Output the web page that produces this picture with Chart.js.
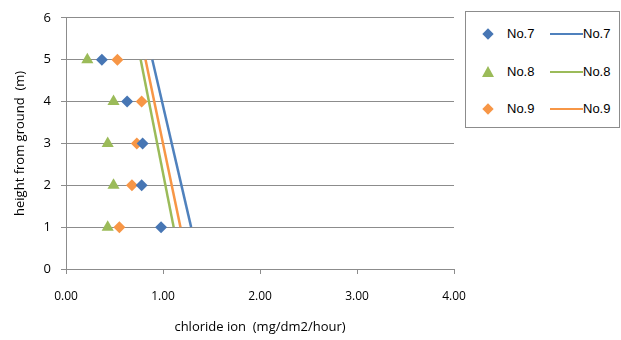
<!DOCTYPE html>
<html>
<head>
<meta charset="utf-8">
<script src="https://cdn.jsdelivr.net/npm/chart.js@4"></script>
<style>
  body { margin: 0; background: #fff; }
  #wrap { position: relative; width: 621px; height: 340px; }
  #legend {
    position: absolute; left: 465px; top: 11px; width: 153px; height: 115px;
    border: 1px solid #8c8c8c; background: #fff;
    font-family: "Liberation Sans", Arial, sans-serif; font-size: 13px; color: #000;
  }
  .row { position: absolute; left: 0; width: 100%; height: 16px; }
  .row span { position: absolute; top: 0; line-height: 16px; }
  .mk { position: absolute; }
  .ln { position: absolute; height: 2px; top: 7px; left: 84px; width: 33px; }
</style>
</head>
<body>
<div id="wrap">
  <canvas id="chart" width="621" height="340"></canvas>
  <div id="legend"></div>
</div>
<script>
// --- data ---
const heights = [1, 2, 3, 4, 5];
const no7 = [0.98, 0.78, 0.79, 0.63, 0.37];
const no8 = [0.43, 0.49, 0.43, 0.49, 0.22];
const no9 = [0.55, 0.68, 0.73, 0.78, 0.53];

// trend lines (end points)
const lineHeights = [1, 5];
const no7Line = [1.29, 0.89];
const no8Line = [1.11, 0.77];
const no9Line = [1.18, 0.82];

const xTicks = [0, 1, 2, 3, 4];
const yTicks = [0, 1, 2, 3, 4, 5, 6];
const seriesNames = ['No.7', 'No.8', 'No.9'];

const blue = '#4F81BD';
const blueMk = '#4776B4';
const green = '#9BBB59';
const orange = '#F79646';
const gridGray = '#8c8c8c';

const pts = (xs, ys) => xs.map((x, i) => ({ x: x, y: ys[i] }));

const markerSet = (label, xs, color, style) => ({
    label: label,
    data: pts(xs, heights),
    showLine: false,
    pointStyle: style,
    pointRadius: style === 'triangle' ? 7 : 6,
    backgroundColor: color,
    borderColor: color,
    borderWidth: 0
});

const lineSet = (label, xs, color) => ({
    label: label,
    data: pts(xs, lineHeights),
    showLine: true,
    pointRadius: 0,
    borderColor: color,
    borderWidth: 2.5,
    backgroundColor: color
});

new Chart(document.getElementById('chart'), {
    type: 'scatter',
    data: {
        datasets: [
            lineSet(seriesNames[0], no7Line, blue),
            lineSet(seriesNames[1], no8Line, green),
            lineSet(seriesNames[2], no9Line, orange),
            markerSet(seriesNames[0], no7, blueMk, 'rectRot'),
            markerSet(seriesNames[1], no8, green, 'triangle'),
            markerSet(seriesNames[2], no9, orange, 'rectRot')
        ]
    },
    options: {
        responsive: false,
        animation: false,
        layout: { padding: { top: 15, right: 167, left: 0, bottom: 0 } },
        plugins: { legend: { display: false }, tooltip: { enabled: false } },
        scales: {
            x: {
                type: 'linear', min: 0, max: 4,
                afterBuildTicks: s => { s.ticks = xTicks.map(v => ({ value: v })); },
                afterFit: s => { s.height = 71; },
                grid: { drawOnChartArea: false, color: gridGray, tickLength: 5 },
                border: { color: gridGray },
                ticks: {
                    padding: 15, color: '#000',
                    font: { family: 'Open Sans', size: 12 },
                    callback: v => v.toFixed(2)
                },
                title: {
                    display: true, text: 'chloride ion  (mg/dm2/hour)', color: '#000',
                    font: { family: 'Open Sans', size: 13 }, padding: { top: 8, bottom: 5 }
                }
            },
            y: {
                type: 'linear', min: 0, max: 6,
                afterBuildTicks: s => { s.ticks = yTicks.map(v => ({ value: v })); },
                afterFit: s => { s.width = 66; },
                grid: { color: gridGray, tickLength: 5 },
                border: { color: gridGray },
                ticks: {
                    padding: 10, color: '#000',
                    font: { family: 'Open Sans', size: 13 }
                },
                title: {
                    display: true, text: 'height from ground  (m)', color: '#000',
                    font: { family: 'Open Sans', size: 13 }, padding: { top: 12, bottom: 4 }
                }
            }
        }
    }
});

// --- legend ---
const legend = document.getElementById('legend');
const legendColors = [[blueMk, blue], [green, green], [orange, orange]];
const rowTops = [14, 52, 89];
seriesNames.forEach((name, i) => {
    const row = document.createElement('div');
    row.className = 'row';
    row.style.top = rowTops[i] + 'px';
    let mk;
    if (i === 1) {
        mk = `<div class="mk" style="left:16px;top:2px;width:0;height:0;border-left:6px solid transparent;border-right:6px solid transparent;border-bottom:11px solid ${legendColors[i][0]};"></div>`;
    } else {
        mk = `<div class="mk" style="left:18px;top:4px;width:8px;height:8px;transform:rotate(45deg);background:${legendColors[i][0]};"></div>`;
    }
    row.innerHTML = mk +
        `<span style="left:41px">${name}</span>` +
        `<div class="ln" style="background:${legendColors[i][1]}"></div>` +
        `<span style="left:117px">${name}</span>`;
    legend.appendChild(row);
});
</script>
</body>
</html>
